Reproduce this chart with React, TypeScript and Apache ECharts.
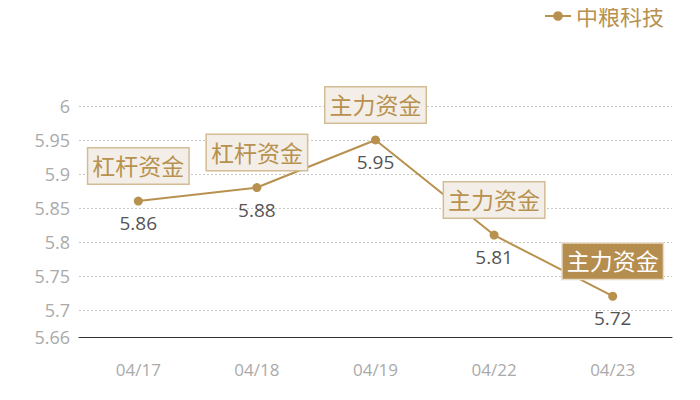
import React, { useEffect, useRef } from 'react';
import * as echarts from 'echarts';

const dates = ['04/17', '04/18', '04/19', '04/22', '04/23'];
const prices = [5.86, 5.88, 5.95, 5.81, 5.72];
const tags = ['杠杆资金', '杠杆资金', '主力资金', '主力资金', '主力资金'];
const highlighted = [false, false, false, false, true];

const FONT = "'Open Sans', 'Noto Sans CJK SC', sans-serif";
const GOLD = '#b8914f';

const App: React.FC = () => {
  const chartRef = useRef<HTMLDivElement>(null);

  useEffect(() => {
    if (!chartRef.current) return;
    const chart = echarts.init(chartRef.current, null, { renderer: 'svg' });

    // 标签数据：最后一个为实心高亮
    const tagData = prices.map((v, i) => ({
      value: v,
      label: highlighted[i]
        ? { backgroundColor: '#b58d4f', color: '#fff', borderColor: '#e8dcc6' }
        : {}
    }));

    const option = {
      animation: false,
      textStyle: { fontFamily: FONT },
      legend: {
        data: ['中粮科技'],
        top: 0,
        right: 31,
        itemWidth: 26,
        itemHeight: 12,
        textStyle: { color: GOLD, fontSize: 22, fontFamily: FONT }
      },
      grid: { left: 79, right: 28, top: 106, bottom: 63 },
      xAxis: {
        type: 'category',
        data: dates,
        axisLine: { lineStyle: { color: '#333', width: 1 } },
        axisTick: { show: false },
        axisLabel: { color: '#aaa', fontSize: 17, margin: 24, fontFamily: FONT }
      },
      yAxis: {
        type: 'value',
        min: 5.66,
        max: 6,
        axisLine: { show: false },
        axisTick: { show: false },
        axisLabel: { color: '#aaa', fontSize: 18, margin: 9, fontFamily: FONT },
        splitLine: { lineStyle: { color: '#c8c8c8', type: [2, 2] } }
      },
      series: [
        {
          name: '中粮科技',
          type: 'line',
          data: prices,
          symbol: 'circle',
          symbolSize: 9,
          itemStyle: { color: GOLD },
          lineStyle: { color: GOLD, width: 2 },
          label: {
            show: true,
            position: 'bottom',
            distance: 8,
            color: '#555',
            fontSize: 19,
            fontFamily: FONT
          },
          z: 3
        },
        {
          name: '资金类型',
          type: 'line',
          data: tagData,
          symbol: 'circle',
          symbolSize: 1,
          showSymbol: true,
          itemStyle: { color: 'rgba(0,0,0,0)' },
          lineStyle: { opacity: 0 },
          label: {
            show: true,
            position: 'top',
            distance: 17,
            formatter: (p: any) => tags[p.dataIndex],
            color: GOLD,
            fontSize: 23,
            fontFamily: FONT,
            lineHeight: 25,
            backgroundColor: '#f3efe8',
            borderColor: '#d3bc94',
            borderWidth: 1.5,
            padding: [5, 4, 5, 4]
          },
          z: 4
        }
      ]
    };

    chart.setOption(option);

    return () => {
      chart.dispose();
    };
  }, []);

  return <div ref={chartRef} style={{ width: 700, height: 400, margin: -8 }}></div>;
};

export default App;
